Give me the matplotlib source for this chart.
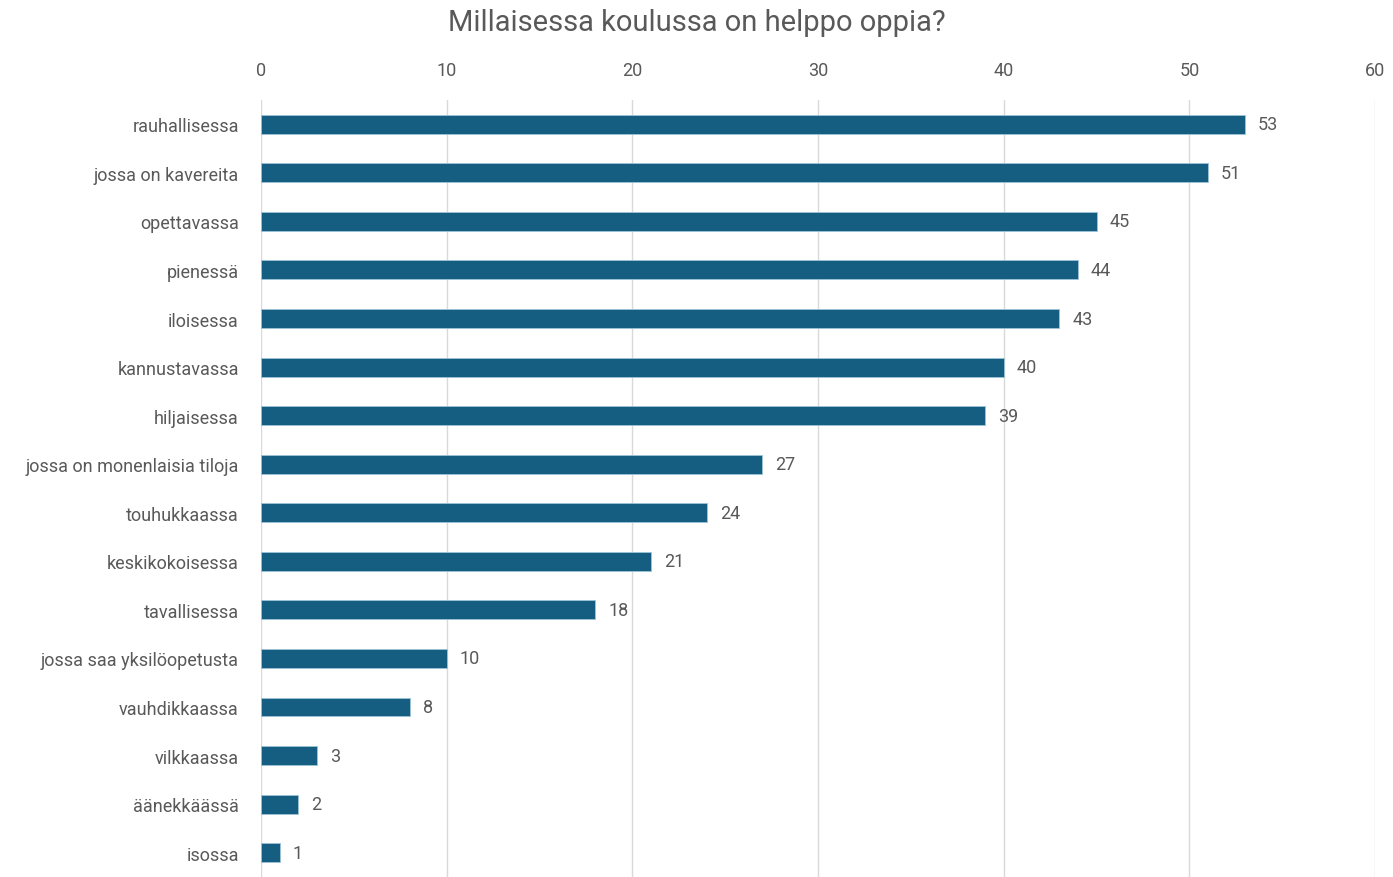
import matplotlib.pyplot as plt
import matplotlib.font_manager as fm

names = {f.name for f in fm.fontManager.ttflist}
fam = ['Liberation Sans Narrow', 'DejaVu Sans'] if 'Liberation Sans Narrow' in names else ['Roboto', 'DejaVu Sans']
plt.rcParams['font.family'] = fam

labels = ["rauhallisessa", "jossa on kavereita", "opettavassa", "pienessä", "iloisessa",
          "kannustavassa", "hiljaisessa", "jossa on monenlaisia tiloja", "touhukkaassa",
          "keskikokoisessa", "tavallisessa", "jossa saa yksilöopetusta", "vauhdikkaassa",
          "vilkkaassa", "äänekkäässä", "isossa"]
values = [53, 51, 45, 44, 43, 40, 39, 27, 24, 21, 18, 10, 8, 3, 2, 1]

gray = '#595959'
fig = plt.figure(figsize=(13.93, 8.78), dpi=100)
ax = fig.add_axes([0.1874, 0.0, 0.7997, 0.885])

pos = list(range(len(labels)))
ax.barh(pos, values, height=0.39, color='#165e81', edgecolor='#9cc3d8', linewidth=0.6, zorder=3)
for p, v in zip(pos, values):
    ax.text(v + 0.7, p, str(v), va='center', ha='left', fontsize=13, color=gray)

ax.set_ylim(len(labels) - 0.5, -0.5)
ax.set_xlim(0, 60)
ax.set_xticks(range(0, 61, 10))
ax.set_yticks(pos)
ax.set_yticklabels(labels)
ax.xaxis.tick_top()
ax.tick_params(axis='x', length=0, pad=15, labelsize=13, labelcolor=gray)
ax.tick_params(axis='y', length=0, pad=16, labelsize=13, labelcolor=gray)
ax.grid(axis='x', color='#d9d9d9', linewidth=1, zorder=0)
for s in ax.spines.values():
    s.set_visible(False)

fig.suptitle("Millaisessa koulussa on helppo oppia?", y=0.99, fontsize=21, color=gray)
fig.savefig('out.png', dpi=100)
